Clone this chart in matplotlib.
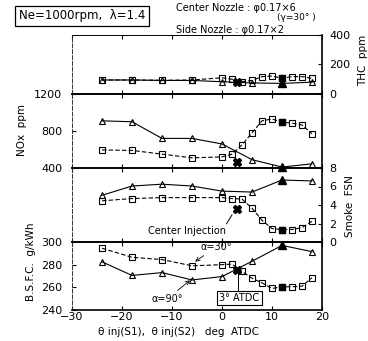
import matplotlib
matplotlib.use("Agg")
import matplotlib.pyplot as plt

# ---------------- data ----------------
x_tri = [-24, -18, -12, -6, 0, 6, 12, 18]
x_sq = [-24, -18, -12, -6, 0, 2, 4, 6, 8, 10, 12, 14, 16, 18]
x_filled = 12
x_center = 3

thc_tri = [95, 95, 92, 92, 83, 75, 72, 80]
thc_sq = [95, 95, 93, 95, 110, 100, 84, 92, 118, 122, 106, 118, 118, 106]
thc_center = 79

nox_tri = [910, 900, 720, 720, 660, 490, 410, 445]
nox_sq = [595, 590, 550, 510, 520, 550, 650, 780, 910, 930, 895, 885, 865, 770]
nox_center = 470

smoke_tri = [5.05, 6.05, 6.25, 6.05, 5.5, 5.4, 6.7, 6.6]
smoke_sq = [4.45, 4.7, 4.8, 4.8, 4.8, 4.7, 4.65, 3.65, 2.35, 1.45, 1.35, 1.35, 1.55, 2.25]
smoke_center = 3.55

bsfc_tri = [282.5, 270.5, 273, 266.5, 269.5, 283, 297, 291.5]
bsfc_sq = [294.5, 286.5, 284.5, 279, 280, 280.5, 274, 268, 264, 259, 260.5, 260.5, 261, 268.5]
bsfc_center = 275.5

x_ticks = [-30, -20, -10, 0, 10, 20]
thc_ticks = [0, 200, 400]
nox_ticks = [400, 800, 1200]
smoke_ticks = [0, 2, 4, 6, 8]
bsfc_ticks = [240, 260, 280, 300]

# ---------------- figure ----------------
W, H = 368, 341
fig = plt.figure(figsize=(W / 100, H / 100), dpi=100)
plt.rcParams['font.family'] = ['DejaVu Sans']

L, R = 72 / W, 322 / W
def box(top, bottom):
    return [L, 1 - bottom / H, R - L, (bottom - top) / H]

ax_thc = fig.add_axes(box(35, 94))
ax_nox = fig.add_axes(box(94, 168))
ax_smk = fig.add_axes(box(168, 242))
ax_bsf = fig.add_axes(box(242, 310))

TS = 8

def style(ax, side, ylim, yticks):
    ax.set_xlim(-30, 20)
    ax.set_ylim(*ylim)
    ax.set_xticks(x_ticks)
    ax.set_yticks(yticks)
    ax.tick_params(direction='in', length=3, width=0.8, labelsize=TS,
                   top=True, bottom=True, labelbottom=False)
    if side == 'right':
        ax.yaxis.tick_right()
        ax.tick_params(axis='y', left=False, right=True, labelright=True,
                       labelleft=False, pad=5)
    else:
        ax.tick_params(axis='y', left=True, right=False, labelleft=True,
                       labelright=False, pad=7)
    ax.spines['left'].set_linestyle((0, (4, 2)))
    ax.spines['left'].set_linewidth(0.7)
    ax.spines['left'].set_color('#333333')
    ax.spines['right'].set_linewidth(1.2)
    ax.spines['top'].set_linewidth(1.2)
    ax.spines['bottom'].set_linewidth(1.2)
    ax.patch.set_alpha(0)

style(ax_thc, 'right', (0, 400), thc_ticks)
style(ax_nox, 'left', (400, 1200), nox_ticks)
style(ax_smk, 'right', (0, 8), smoke_ticks)
style(ax_bsf, 'left', (240, 300), bsfc_ticks)
ax_thc.spines['top'].set_linewidth(0.7)
ax_bsf.tick_params(axis='x', labelbottom=True, pad=1.5)

MS = 5
def draw(ax, ytri, ysq, yc):
    ax.plot(x_sq, ysq, color='black', lw=0.8, ls=(0, (4, 2)), marker='s', ms=MS,
            mfc='none', mec='black', mew=0.8, clip_on=False, zorder=3)
    ax.plot(x_tri, ytri, color='black', lw=0.8, ls='-', marker='^', ms=MS,
            mfc='none', mec='black', mew=0.8, clip_on=False, zorder=3)
    i_sq = x_sq.index(x_filled)
    i_tri = x_tri.index(x_filled)
    ax.plot([x_sq[i_sq]], [ysq[i_sq]], marker='s', ms=MS, color='black', ls='none',
            clip_on=False, zorder=4)
    ax.plot([x_tri[i_tri]], [ytri[i_tri]], marker='^', ms=MS + 1, color='black', ls='none',
            clip_on=False, zorder=4)
    ax.plot([x_center], [yc], marker='X', ms=5.5, color='black', ls='none',
            clip_on=False, zorder=5)

draw(ax_thc, thc_tri, thc_sq, thc_center)
draw(ax_nox, nox_tri, nox_sq, nox_center)
draw(ax_smk, smoke_tri, smoke_sq, smoke_center)
draw(ax_bsf, bsfc_tri, bsfc_sq, bsfc_center)

# ---------------- annotations ----------------
ax_smk.text(-7, 1.15, 'Center Injection', fontsize=7, ha='center', va='center')
ax_smk.annotate('', xy=(2.3, 3.2), xytext=(0.6, 1.7),
                arrowprops=dict(arrowstyle='-', lw=0.7, color='black'))

ax_bsf.annotate('α=30°', xy=(-5.6, 282), xytext=(-1.2, 295.5), fontsize=7,
                ha='center', va='center',
                arrowprops=dict(arrowstyle='->', lw=0.6, color='black', shrinkA=1, shrinkB=1))
ax_bsf.annotate('α=90°', xy=(-6.2, 267), xytext=(-11, 249.5), fontsize=7,
                ha='center', va='center',
                arrowprops=dict(arrowstyle='->', lw=0.6, color='black', shrinkA=1, shrinkB=1))
ax_bsf.text(3.5, 250.5, '3° ATDC', fontsize=7, ha='center', va='center',
            bbox=dict(boxstyle='square,pad=0.2', fc='white', ec='black', lw=0.8))
ax_bsf.plot([3.1, 3.1], [254.5, 274], color='black', lw=0.7)

# ---------------- axis labels ----------------
fig.text(22 / W, 1 - 130 / H, 'NOx  ppm', rotation=90, fontsize=7.5, ha='center', va='center')
fig.text(31 / W, 1 - 262 / H, 'B.S.F.C.  g/kWh', rotation=90, fontsize=7.5, ha='center', va='center')
fig.text(363 / W, 1 - 60 / H, 'THC  ppm', rotation=90, fontsize=7.5, ha='center', va='center')
fig.text(350 / W, 1 - 206 / H, 'Smoke  FSN', rotation=90, fontsize=7.5, ha='center', va='center')
fig.text(178 / W, 1 - 332 / H, 'θ inj(S1),  θ inj(S2)   deg  ATDC', fontsize=7.5,
         ha='center', va='center')

# ---------------- header ----------------
fig.text(82 / W, 1 - 16 / H, 'Ne=1000rpm,  λ=1.4', fontsize=8.5, ha='center', va='center',
         bbox=dict(boxstyle='square,pad=0.3', fc='white', ec='black', lw=0.9))
fig.text(176 / W, 1 - 8 / H, 'Center Nozzle : φ0.17×6', fontsize=7, ha='left', va='center')
fig.text(296 / W, 1 - 18 / H, '(γ=30° )', fontsize=6.5, ha='center', va='center')
fig.text(176 / W, 1 - 30 / H, 'Side Nozzle : φ0.17×2', fontsize=7, ha='left', va='center')

fig.savefig('out.png', dpi=100)
